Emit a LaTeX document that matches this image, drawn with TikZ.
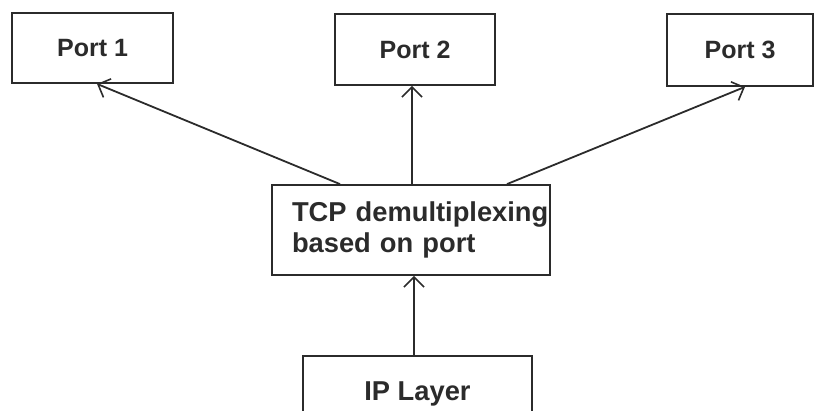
\documentclass[tikz,border=0pt]{standalone}
\usepackage{fontspec}
\setmainfont{Liberation Sans}
\usepackage{xcolor}
\definecolor{cInk}{HTML}{2B2B2B}
\usepackage{tikz}
\usetikzlibrary{arrows.meta, positioning}
\tikzset{
  box/.style  = {rectangle, draw=cInk, line width=1.8pt, fill=white,
                 minimum width=#1, inner sep=0pt, text=cInk,
                 font=\fontsize{25}{29}\selectfont\bfseries},
  box/.default = 160pt,
  big/.style  = {font=\fontsize{27.3}{31}\selectfont\bfseries},
  arr/.style  = {-{Straight Barb[length=10pt, width=20pt, line width=1.6pt]},
                 draw=cInk, line width=1.8pt},
}

\begin{document}
\begin{tikzpicture}[x=1pt, y=-1pt]
  \clip (0,0) rectangle (815,411);
  \useasboundingbox (0,0) rectangle (815,411);

  %% --- ports ---
  \node[box=161pt, minimum height=70pt] (port1) at (92.5,48)  {Port 1};
  \node[box=160pt, minimum height=71pt] (port2) at (415,49.5) {Port 2};
  \node[box=146pt, minimum height=72pt] (port3) at (740,50)   {Port 3};

  %% --- TCP demultiplexer ---
  \node[box=278pt, big, minimum height=90pt, align=left,
        text width=238pt] (tcp) at (411,230)
        {\mbox{TCP demultiplexing}\\based on port};

  %% --- IP layer (cut off at the bottom) ---
  \node[box=229pt, big, minimum height=76pt] (ip) at (417.5,394) {IP Layer};

  %% --- Arrows ---
  \draw[arr] ([xshift=-71pt]tcp.north) -- ([xshift=4.5pt]port1.south);
  \draw[arr] ([xshift=1pt]tcp.north)   -- ([xshift=-3pt]port2.south);
  \draw[arr] ([xshift=96pt]tcp.north)  -- ([xshift=5pt]port3.south);
  \draw[arr] ([xshift=-3.5pt]ip.north) -- ([xshift=3pt]tcp.south);

\end{tikzpicture}
\end{document}
